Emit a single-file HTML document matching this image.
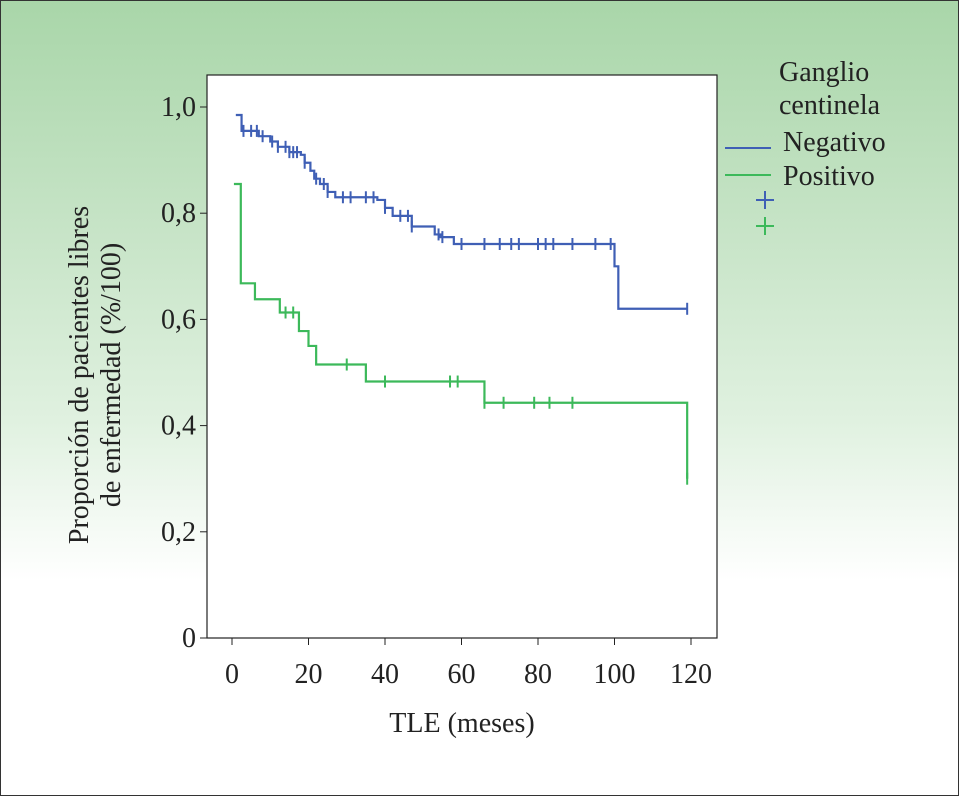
<!DOCTYPE html>
<html><head><meta charset="utf-8"><style>
html,body{margin:0;padding:0;}
body{width:959px;height:796px;overflow:hidden;font-family:"Liberation Serif","DejaVu Serif",serif;}
svg text{font-family:"Liberation Serif","DejaVu Serif",serif;}
#bg{position:absolute;left:0;top:0;width:957px;height:794px;border:1px solid #333;background:linear-gradient(#a9d6a9 0px,#c3e2c3 200px,#e0f1e0 420px,#ffffff 580px);}
</style></head><body>
<div id="bg"></div>
<svg id="chart" width="959" height="796" style="position:absolute;left:0;top:0"></svg>
<script>
const xTicks=[0,20,40,60,80,100,120];
const yTicks=[0,0.2,0.4,0.6,0.8,1.0];
const yTickLabels=["0","0,2","0,4","0,6","0,8","1,0"];
const negTimes=[1,2.5,7,10,12,15,18,19,20.5,21.5,23,25,27,38,40,42,47,53,54.5,58,100,101,119];
const negSurv=[0.985,0.955,0.945,0.935,0.925,0.915,0.91,0.895,0.88,0.865,0.855,0.84,0.83,0.825,0.81,0.795,0.775,0.76,0.755,0.742,0.70,0.62,0.62];
const negCensor=[3,5,6.5,8,10.5,12,14,15,16,17,19,22,24,25,29,31,35,37,40,44,46,47,54,55,60,66,70,73,75,80,82,84,89,95,99,119];
const posTimes=[0.5,2.3,6,12.5,17.5,20,22,35,66,119];
const posSurv=[0.855,0.668,0.638,0.613,0.578,0.55,0.515,0.483,0.443,0.30];
const posCensor=[14,16,30,40,57,59,66,71,79,83,89,119];
const NS="http://www.w3.org/2000/svg";
const svg=document.getElementById('chart');
const X=t=>232+t*3.825;
const Y=s=>638-s*531;
const FS=28;
function el(tag,attrs,parent){const e=document.createElementNS(NS,tag);for(const k in attrs)e.setAttribute(k,attrs[k]);(parent||svg).appendChild(e);return e;}
const plot=el('rect',{x:207,y:75,width:510,height:563,fill:'#fff',stroke:'#222','stroke-width':1.2});


xTicks.forEach(v=>{
 const l=el('line',{x1:X(v),x2:X(v),y1:638,y2:645,stroke:'#222'});
 
 
 const t=el('text',{x:X(v),y:683,'text-anchor':'middle','font-size':FS,fill:'#222'});t.textContent=v;
 
 
});
yTicks.forEach((v,i)=>{
 const l=el('line',{x1:200,x2:207,y1:Y(v),y2:Y(v),stroke:'#222'});
 
 
 const t=el('text',{x:196,y:Y(v)+9,'text-anchor':'end','font-size':FS,fill:'#222'});t.textContent=yTickLabels[i];
 
 
});
const xt=el('text',{x:462,y:732,'text-anchor':'middle','font-size':FS,fill:'#222'});xt.textContent='TLE (meses)';


const yt=el('text',{transform:'translate(88,375) rotate(-90)','text-anchor':'middle','font-size':FS,fill:'#222'});


const ts1=el('tspan',{x:0,dy:0},yt);ts1.textContent='Proporción de pacientes libres';
const ts2=el('tspan',{x:0,dy:32},yt);ts2.textContent='de enfermedad (%/100)';
function survAt(times,surv,t){let s=surv[0];for(let i=0;i<times.length;i++){if(times[i]<=t)s=surv[i];}return s;}
function drawSeries(times,surv,cens,color,name){
 let d='M'+X(times[0])+','+Y(surv[0]);
 for(let i=1;i<times.length;i++){d+=' H'+X(times[i])+' V'+Y(surv[i]);}
 const p=el('path',{d:d,fill:'none',stroke:color,'stroke-width':2.2});
 
 
 cens.forEach(c=>{
  const s=survAt(times,surv,c);
  const m=el('line',{x1:X(c),x2:X(c),y1:Y(s)-6,y2:Y(s)+6,stroke:color,'stroke-width':2});
  
  
 });
}
drawSeries(negTimes,negSurv,negCensor,'#3f5fb5','negativo');
drawSeries(posTimes,posSurv,posCensor,'#3cb95a','positivo');
const lg=el('g',{});


[['Ganglio',81],['centinela',114]].forEach(a=>{const t=el('text',{x:779,y:a[1],'font-size':FS,fill:'#222'},lg);t.textContent=a[0];
 
 });
const e1=el('line',{x1:725,x2:771,y1:148,y2:148,stroke:'#3f5fb5','stroke-width':2},lg);


const t1=el('text',{x:783,y:151,'font-size':FS,fill:'#222'},lg);t1.textContent='Negativo';


const e2=el('line',{x1:725,x2:771,y1:175,y2:175,stroke:'#3cb95a','stroke-width':2},lg);


const t2=el('text',{x:783,y:185,'font-size':FS,fill:'#222'},lg);t2.textContent='Positivo';


[['#3f5fb5',200],['#3cb95a',226]].forEach(a=>{
 const g=el('path',{d:`M756,${a[1]} H774 M765,${a[1]-9} V${a[1]+9}`,stroke:a[0],'stroke-width':2},lg);
 
 
});
</script>
</body></html>
